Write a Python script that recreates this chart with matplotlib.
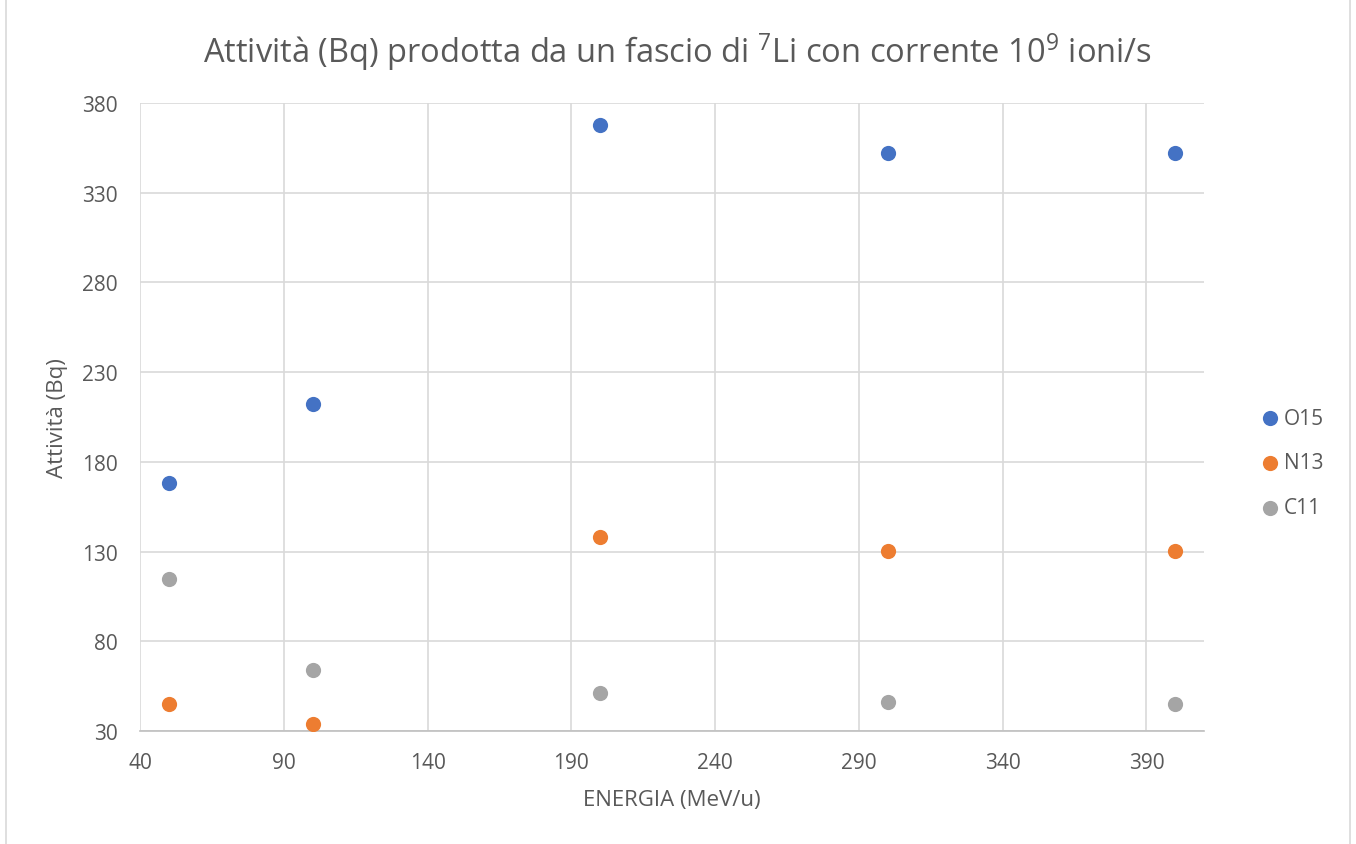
import matplotlib
matplotlib.use("Agg")
import matplotlib.pyplot as plt
from matplotlib.patches import Rectangle

plt.rcParams["font.family"] = ["Open Sans", "DejaVu Sans"]
plt.rcParams["mathtext.fontset"] = "custom"
plt.rcParams["mathtext.rm"] = "Open Sans"

ENERGY = [50, 100, 200, 300, 400]
O15 = [168.2, 212.2, 367.7, 352.1, 351.9]
N13 = [45.0, 33.8, 138.1, 130.3, 130.3]
C11 = [114.7, 64.0, 51.1, 46.1, 45.0]

SERIES = [
    ("O15", O15, "#4472C4"),
    ("N13", N13, "#ED7D31"),
    ("C11", C11, "#A5A5A5"),
]

X_TICKS = list(range(40, 391, 50))
Y_TICKS = list(range(30, 381, 50))

TEXT_COLOR = "#595959"
GRID_COLOR = "#D9D9D9"

fig = plt.figure(figsize=(13.56, 8.45), dpi=100)
ax = fig.add_axes([140 / 1356, 1 - 732 / 845, 1064 / 1356, 628 / 845])

for name, values, color in SERIES:
    ax.scatter(ENERGY, values, s=120, color=color, label=name, zorder=3, linewidths=0)

ax.set_xlim(40, 410)
ax.set_ylim(30, 380)
ax.set_xticks(X_TICKS)
ax.set_yticks(Y_TICKS)
ax.grid(True, color=GRID_COLOR, linewidth=1.2)
ax.set_axisbelow(True)

for side in ["top", "right", "left"]:
    ax.spines[side].set_visible(False)
ax.spines["bottom"].set_color("#BFBFBF")
ax.spines["bottom"].set_linewidth(1.2)

ax.tick_params(length=0, labelsize=15, colors=TEXT_COLOR)
ax.tick_params(axis="x", pad=15)
ax.tick_params(axis="y", pad=16)

ax.set_xlabel("ENERGIA (MeV/u)", fontsize=16, color=TEXT_COLOR, va="center")
ax.set_ylabel("Attività (Bq)", fontsize=16, color=TEXT_COLOR, va="center")
ax.xaxis.set_label_coords(0.5, (732 - 801) / 628)
ax.yaxis.set_label_coords((57 - 140) / 1064, 0.5)

fig.text(
    678 / 1356, 1 - 52 / 845,
    r"Attività (Bq) prodotta da un fascio di $\mathregular{^7}$Li con corrente 10$\mathregular{^9}$ ioni/s",
    ha="center", va="center", fontsize=23.5, color=TEXT_COLOR,
)

ax.legend(
    loc="center left", bbox_to_anchor=((1260 - 140) / 1064, (732 - 464) / 628),
    frameon=False, fontsize=15, labelcolor=TEXT_COLOR,
    handlelength=1.0, handletextpad=0.15, borderpad=0, borderaxespad=0,
    labelspacing=1.15, markerscale=1.0,
)

fig.patches.append(Rectangle((6 / 1356, -0.01), 1344 / 1356, 1.02,
                             transform=fig.transFigure, fill=False,
                             edgecolor=GRID_COLOR, linewidth=1.2))

fig.savefig("out.png", dpi=100)
